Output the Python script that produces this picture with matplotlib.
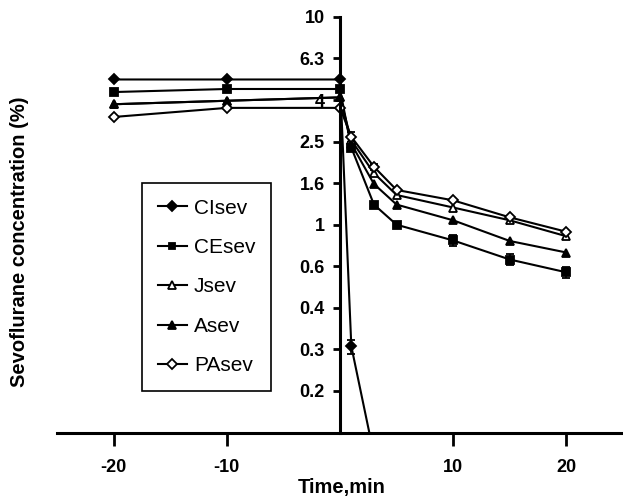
import numpy as np
import matplotlib.pyplot as plt
from matplotlib.lines import Line2D

time = [-20, -10, 0, 1, 3, 5, 10, 15, 20]
clsev = [5.0, 5.0, 5.0, 0.26, 0.078, np.nan, np.nan, np.nan, np.nan]
cesev = [4.35, 4.5, 4.5, 2.35, 1.25, 1.0, 0.84, 0.68, 0.59]
jsev = [3.8, 3.95, 4.1, 2.55, 1.77, 1.39, 1.21, 1.05, 0.88]
asev = [3.8, 3.95, 4.1, 2.45, 1.57, 1.25, 1.05, 0.835, 0.735]
pasev = [3.3, 3.65, 3.65, 2.65, 1.9, 1.47, 1.31, 1.085, 0.925]
clsev_err = [0, 0, 0, 0.02, 0, 0, 0, 0, 0]
cesev_err = [0, 0, 0, 0.08, 0, 0, 0.05, 0.04, 0.035]
pasev_err = [0, 0, 0, 0.15, 0.06, 0, 0, 0, 0]

ytick_vals = 10 ** np.arange(-0.8, 1.01, 0.2)
ytick_labels = ['0.2', '0.3', '0.4', '0.6', '1', '1.6', '2.5', '4', '6.3', '10']
xtick_vals = [-20, -10, 10, 20]

plt.rcParams['font.family'] = ['Liberation Sans', 'DejaVu Sans']

fig = plt.figure(figsize=(6.23, 4.98), dpi=100)
ax = fig.add_axes([0.0915, 0.1315, 0.9085, 0.8345])

series = [
    ('CIsev', clsev, clsev_err, 'D', 'black'),
    ('CEsev', cesev, cesev_err, 's', 'black'),
    ('Jsev', jsev, None, '^', 'white'),
    ('Asev', asev, None, '^', 'black'),
    ('PAsev', pasev, pasev_err, 'D', 'white'),
]
handles = []
for name, vals, err, mk, fc in series:
    ms = {'D': 5.2, 's': 5.5, '^': 6}[mk]
    ax.errorbar(time, vals, yerr=err, color='black', lw=1.5, marker=mk,
                markersize=ms, markerfacecolor=fc, markeredgecolor='black',
                markeredgewidth=1.3, capsize=3, elinewidth=1.2)
    handles.append(Line2D([], [], color='black', lw=1.5, marker=mk, markersize=ms - 0.5,
                          markerfacecolor=fc, markeredgecolor='black',
                          markeredgewidth=1.3, label=name))

ax.set_yscale('log')
ax.set_ylim(0.1, 10)
ax.set_xlim(-25, 25)
ax.set_yticks(ytick_vals)
ax.set_yticklabels(ytick_labels)
ax.minorticks_off()
ax.set_xticks(xtick_vals)
ax.set_xticklabels([str(v) for v in xtick_vals])

ax.spines['left'].set_position(('data', 0))
ax.spines['right'].set_visible(False)
ax.spines['top'].set_visible(False)
ax.spines['left'].set_linewidth(2.2)
ax.spines['bottom'].set_linewidth(2.2)
ax.tick_params(axis='y', direction='out', length=5, width=2, pad=6, labelsize=13)
ax.tick_params(axis='x', direction='out', length=9, width=2, pad=10, labelsize=13)
for lab in ax.get_xticklabels() + ax.get_yticklabels():
    lab.set_fontweight('bold')

leg = ax.legend(handles=handles, loc='upper left', bbox_to_anchor=(0.1502, 0.6005),
                borderaxespad=0, fontsize=15, labelspacing=0.98, handlelength=1.4,
                handletextpad=0.35, borderpad=0.75, fancybox=False, framealpha=1)
leg.get_frame().set_edgecolor('black')
leg.get_frame().set_linewidth(1.2)

fig.text(342 / 623, 1 - 487 / 498, 'Time,min', ha='center', va='center',
         fontsize=14.5, fontweight='bold')
fig.text(20 / 623, 1 - 242 / 498, 'Sevoflurane concentration (%)', ha='center',
         va='center', rotation=90, fontsize=14.5, fontweight='bold')

fig.savefig('out.png', dpi=100)
